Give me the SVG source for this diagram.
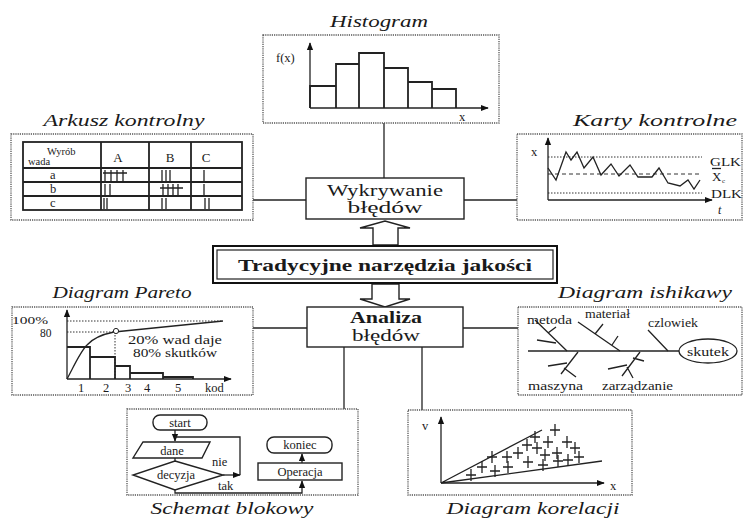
<svg xmlns="http://www.w3.org/2000/svg" xmlns:xlink="http://www.w3.org/1999/xlink" width="744" height="518" viewBox="0 0 744 518" font-family="'Liberation Serif', 'DejaVu Serif', serif">
<defs>
<style>
text { font-family: "Liberation Serif", "DejaVu Serif", serif; fill: #1a1a1a; }
.ti { font-style: italic; font-size: 17px; }
.box { fill: none; stroke: #555; stroke-width: 1.3; stroke-dasharray: 1.2 1; }
.ln { fill: none; stroke: #222; stroke-width: 1.3; }
.th { fill: none; stroke: #222; stroke-width: 1.8; }
.dl { fill: none; stroke: #333; stroke-width: 1; stroke-dasharray: 1.5 1.5; }
.dh { fill: none; stroke: #333; stroke-width: 1; stroke-dasharray: 4 3; }
.sm { font-size: 10.5px; }
.md { font-size: 12.5px; }
.nd { font-size: 16px; }
.nb { fill: #fff; stroke: #222; stroke-width: 1.4; }
</style>
<marker id="ah" viewBox="0 0 10 10" refX="9" refY="5" markerWidth="8" markerHeight="8" orient="auto" markerUnits="userSpaceOnUse">
<path d="M0,1 L10,5 L0,9 z" fill="#111"/>
</marker>
<path id="p" d="M-5,0H5M0,-6V6" fill="none" stroke="#222" stroke-width="1.3"/>
</defs>

<g id="connectors">
<path class="ln" d="M384,123 V178"/>
<path class="ln" d="M253,200 H306"/>
<path class="ln" d="M464,200 H517"/>
<path class="ln" d="M253,328 H307"/>
<path class="ln" d="M463,328 H518"/>
<path class="ln" d="M344,347 V409"/>
<path class="ln" d="M422,347 V410"/>
<polygon class="nb" points="373,245 373,228 360,228 385,221 410,228 398,228 398,245"/>
<polygon class="nb" points="372,284 372,299 360,299 385,307 410,299 399,299 399,284"/>
</g>

<g id="histogram">
<text class="ti" x="379" y="27" text-anchor="middle" textLength="98" lengthAdjust="spacingAndGlyphs">Histogram</text>
<rect class="box" x="263" y="35" width="236" height="88"/>
<path class="th" d="M310,108 V86 H336 V108 M336,86 V64 H359 V108 M359,64 V53 H384 V108 M384,68 H408 V108 M408,82 H432 V108 M432,89 H456 V108"/>
<path class="ln" d="M310,108 V43" stroke-width="1.8" marker-end="url(#ah)"/>
<path class="ln" d="M310,108 H488" stroke-width="1.8" marker-end="url(#ah)"/>
<text class="md" x="276" y="62">f(x)</text>
<text class="md" x="459" y="121">x</text>
</g>

<g id="arkusz">
<text class="ti" x="124" y="126" text-anchor="middle" textLength="161" lengthAdjust="spacingAndGlyphs">Arkusz kontrolny</text>
<rect class="box" x="11" y="134" width="242" height="86"/>
<rect class="th" x="23" y="142" width="219" height="68"/>
<path class="th" d="M101,142 V210 M149,142 V210 M191,142 V210 M23,168 H242 M23,182 H242 M23,196 H242"/>
<text class="sm" x="47" y="155">Wyrób</text>
<text class="sm" x="28" y="165">wada</text>
<text x="118" y="162" font-size="13" text-anchor="middle">A</text>
<text x="170" y="162" font-size="13" text-anchor="middle">B</text>
<text x="206" y="162" font-size="13" text-anchor="middle">C</text>
<text class="md" x="50" y="179">a</text>
<text class="md" x="50" y="193">b</text>
<text class="md" x="50" y="207">c</text>
<path class="ln" stroke-width="1.5" d="M105,170 V181 M111,170 V181 M117,170 V181 M123,170 V181 M103,173 H127
M162,170 V181 M166,170 V181 M170,170 V181 M204,170 V181
M105,184 V195 M110,184 V195 M163,184 V195 M168,184 V195 M173,184 V195 M178,184 V195 M160,188 H183 M204,184 V195
M104,198 V209 M107,198 V209 M162,198 V209 M166,198 V209 M205,198 V209 M209,198 V209"/>
</g>

<g id="karty">
<text class="ti" x="655" y="126" text-anchor="middle" textLength="164" lengthAdjust="spacingAndGlyphs">Karty kontrolne</text>
<rect class="box" x="517" y="134" width="225" height="86"/>
<path class="dl" d="M548,157 H702 M548,193 H702"/>
<path class="dh" d="M548,174 H702"/>
<polyline class="ln" points="548,168 556,180 566,152 571,160 577,152 584,168 593,157 601,175 611,164 619,176 630,165 638,177 652,177 659,168 668,183 680,186 688,180 694,189 700,180"/>
<path class="ln" stroke-width="1.6" d="M548,200 V138" marker-end="url(#ah)"/>
<path class="ln" stroke-width="1.6" d="M548,200 H712" marker-end="url(#ah)"/>
<text class="md" x="531" y="156">x</text>
<text x="710" y="166" font-size="13" textLength="31" lengthAdjust="spacingAndGlyphs">GLK</text>
<path class="ln" stroke-width="1" d="M712,168.5 H721"/>
<text x="712" y="181" font-size="13">X</text>
<text x="722" y="183" font-size="7">c</text>
<text x="711" y="198" font-size="13" textLength="31" lengthAdjust="spacingAndGlyphs">DLK</text>
<text x="718" y="214" font-size="12" font-style="italic">t</text>
</g>

<g id="wykrywanie">
<rect class="nb" x="306" y="178" width="158" height="41"/>
<text class="nd" x="385" y="196" text-anchor="middle" textLength="116" lengthAdjust="spacingAndGlyphs">Wykrywanie</text>
<text class="nd" x="385" y="213" text-anchor="middle" textLength="75" lengthAdjust="spacingAndGlyphs">błędów</text>
</g>

<g id="tradycyjne">
<rect fill="#fff" stroke="#111" stroke-width="2" x="213" y="246" width="344" height="37"/>
<rect fill="none" stroke="#222" stroke-width="1.2" x="217" y="250" width="336" height="29"/>
<text x="385" y="271" font-size="17" font-weight="bold" text-anchor="middle" textLength="294" lengthAdjust="spacingAndGlyphs">Tradycyjne narzędzia jakości</text>
</g>

<g id="analiza">
<rect class="nb" x="307" y="307" width="156" height="40"/>
<text class="nd" x="386" y="323" font-weight="bold" text-anchor="middle" textLength="72" lengthAdjust="spacingAndGlyphs">Analiza</text>
<text class="nd" x="386" y="341" text-anchor="middle" textLength="68" lengthAdjust="spacingAndGlyphs">błędów</text>
</g>

<g id="pareto">
<text class="ti" x="122" y="298" text-anchor="middle" textLength="139" lengthAdjust="spacingAndGlyphs">Diagram Pareto</text>
<rect class="box" x="12" y="307" width="241" height="88"/>
<path class="dl" d="M67,321 H223 M67,332 H115 V379"/>
<path class="th" d="M67,347 H90 V379 M90,357 H115 V379 M115,366 H130 V379 M130,373 H163 V379 M163,377 H193 V379"/>
<path class="ln" d="M67,379 C73,368 80,352 87,345 C94,337 104,334 114,332 L223,321"/>
<circle cx="116" cy="331" r="2.6" fill="#fff" stroke="#222" stroke-width="1"/>
<path class="ln" stroke-width="1.8" d="M67,379 V310" marker-end="url(#ah)"/>
<path class="ln" stroke-width="1.8" d="M67,379 H231" marker-end="url(#ah)"/>
<text x="12" y="324" font-size="11" textLength="36" lengthAdjust="spacingAndGlyphs">100%</text>
<text x="40" y="337" font-size="11.5">80</text>
<text x="175" y="344" font-size="11.5" text-anchor="middle" textLength="94" lengthAdjust="spacingAndGlyphs">20% wad daje</text>
<text x="175" y="357" font-size="11.5" text-anchor="middle" textLength="84" lengthAdjust="spacingAndGlyphs">80% skutków</text>
<text class="md" x="81" y="392" text-anchor="middle">1</text>
<text class="md" x="106" y="392" text-anchor="middle">2</text>
<text class="md" x="128" y="392" text-anchor="middle">3</text>
<text class="md" x="147" y="392" text-anchor="middle">4</text>
<text class="md" x="178" y="392" text-anchor="middle">5</text>
<text class="md" x="205" y="392">kod</text>
</g>

<g id="ishikawa">
<text class="ti" x="645" y="298" text-anchor="middle" textLength="174" lengthAdjust="spacingAndGlyphs">Diagram ishikawy</text>
<rect class="box" x="518" y="307" width="224" height="88"/>
<path class="ln" stroke-width="1.6" d="M528,351 H679"/>
<ellipse cx="708" cy="351" rx="29" ry="12" fill="none" stroke="#222" stroke-width="1.3"/>
<path class="ln" d="M535,320 L567,351 M548,333 L556,327 M537,340 L556,343
M578,322 L620,351 M595,334 L603,324 M612,345 L618,336
M648,330 L668,351
M578,352 L561,374 M548,366 L567,363 M564,368 L576,377
M640,352 L622,376 M608,369 L627,365 M627,367 L633,378 M633,358 L644,361"/>
<text x="527" y="324" font-size="11.5" textLength="45" lengthAdjust="spacingAndGlyphs">metoda</text>
<text x="585" y="318" font-size="11.5" textLength="45" lengthAdjust="spacingAndGlyphs">materiał</text>
<text x="648" y="327" font-size="11.5" textLength="50" lengthAdjust="spacingAndGlyphs">czlowiek</text>
<text x="528" y="390" font-size="11.5" textLength="55" lengthAdjust="spacingAndGlyphs">maszyna</text>
<text x="602" y="390" font-size="11.5" textLength="71" lengthAdjust="spacingAndGlyphs">zarządzanie</text>
<text class="md" x="708" y="356" text-anchor="middle" textLength="42" lengthAdjust="spacingAndGlyphs">skutek</text>
</g>

<g id="schemat">
<text class="ti" x="232" y="514" text-anchor="middle" textLength="163" lengthAdjust="spacingAndGlyphs">Schemat blokowy</text>
<rect class="box" x="127" y="409" width="231" height="86"/>
<rect class="nb" x="153" y="415" width="54" height="15" rx="7"/>
<text class="md" x="180" y="427" text-anchor="middle">start</text>
<path class="ln" d="M175,430 V441" marker-end="url(#ah)"/>
<path class="ln" d="M240,475 V437 H175"/>
<path class="ln" d="M223,475 H240" marker-end="url(#ah)"/>
<polygon class="nb" points="143,442 210,442 202,458 133,458"/>
<text class="md" x="172" y="455" text-anchor="middle">dane</text>
<path class="ln" d="M175,458 V461"/>
<polygon class="nb" points="175,461 223,475 175,490 133,475"/>
<text class="md" x="176" y="479" text-anchor="middle">decyzja</text>
<text class="md" x="212" y="466">nie</text>
<path class="ln" d="M175,490 V493 H302 V481" marker-end="url(#ah)"/>
<text class="md" x="218" y="490">tak</text>
<rect class="nb" x="258" y="463" width="84" height="17"/>
<text class="md" x="300" y="476" text-anchor="middle">Operacja</text>
<path class="ln" d="M302,463 V454" marker-end="url(#ah)"/>
<rect class="nb" x="267" y="437" width="65" height="16" rx="7"/>
<text class="md" x="300" y="449" text-anchor="middle">koniec</text>
</g>

<g id="korelacja">
<text class="ti" x="533" y="514" text-anchor="middle" textLength="173" lengthAdjust="spacingAndGlyphs">Diagram korelacji</text>
<rect class="box" x="408" y="410" width="224" height="85"/>
<path class="ln" d="M441,483 L542,430 M441,483 L602,461"/>
<path class="ln" stroke-width="1.6" d="M441,483 V417" marker-end="url(#ah)"/>
<path class="ln" stroke-width="1.6" d="M441,483 H604" marker-end="url(#ah)"/>
<text class="md" x="422" y="430">v</text>
<text class="md" x="610" y="490">x</text>
<use xlink:href="#p" x="555" y="430"/>
<use xlink:href="#p" x="535" y="437"/>
<use xlink:href="#p" x="548" y="442"/>
<use xlink:href="#p" x="567" y="442"/>
<use xlink:href="#p" x="527" y="445"/>
<use xlink:href="#p" x="537" y="448"/>
<use xlink:href="#p" x="575" y="448"/>
<use xlink:href="#p" x="507" y="457"/>
<use xlink:href="#p" x="518" y="453"/>
<use xlink:href="#p" x="545" y="455"/>
<use xlink:href="#p" x="557" y="453"/>
<use xlink:href="#p" x="579" y="457"/>
<use xlink:href="#p" x="492" y="457"/>
<use xlink:href="#p" x="482" y="467"/>
<use xlink:href="#p" x="495" y="471"/>
<use xlink:href="#p" x="508" y="467"/>
<use xlink:href="#p" x="528" y="462"/>
<use xlink:href="#p" x="543" y="465"/>
<use xlink:href="#p" x="558" y="461"/>
<use xlink:href="#p" x="568" y="460"/>
<use xlink:href="#p" x="471" y="475"/>
</g>
</svg>
